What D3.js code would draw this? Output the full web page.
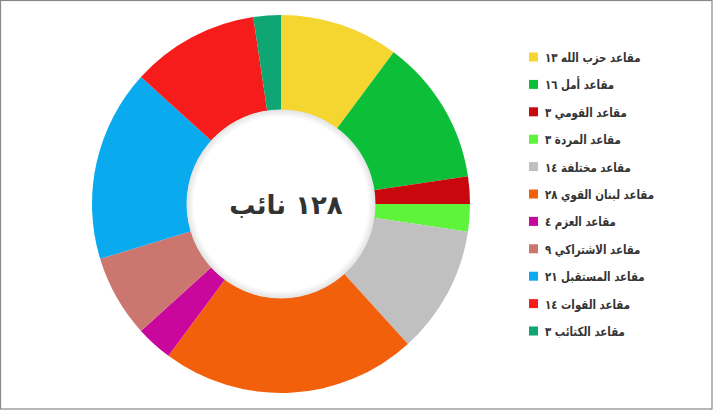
<!DOCTYPE html>
<html>
<head>
<meta charset="utf-8">
<script src="https://cdn.jsdelivr.net/npm/d3@7"></script>
<style>
  html, body { margin: 0; padding: 0; background: #fff; }
  svg { display: block; }
</style>
</head>
<body>
<svg id="chart" width="713" height="410"></svg>
<script>
// ---- data ----
const parties = ["مقاعد حزب الله", "مقاعد أمل", "مقاعد القومي", "مقاعد المردة", "مقاعد مختلفة",
                 "مقاعد لبنان القوي", "مقاعد العزم", "مقاعد الاشتراكي", "مقاعد المستقبل",
                 "مقاعد القوات", "مقاعد الكتائب"];
const seats = [13, 16, 3, 3, 14, 28, 4, 9, 21, 14, 3];
const seatLabels = ["١٣", "١٦", "٣", "٣", "١٤", "٢٨", "٤", "٩", "٢١", "١٤", "٣"];
const colors = ["#f5d52f", "#0dbf38", "#c8080d", "#5ef43c", "#c0c0c0", "#f2600c",
                "#c9079c", "#cc7670", "#0aabee", "#f61c1c", "#0fa673"];
const centerLabel = "١٢٨ نائب";

// ---- drawing ----
const svg = d3.select("#chart");
svg.append("rect").attr("x", 0.5).attr("y", 0.5).attr("width", 711.5).attr("height", 408.5)
  .attr("fill", "#fff").attr("stroke", "#888").attr("stroke-width", 1.2);

const defs = svg.append("defs");
const grad = defs.append("radialGradient").attr("id", "hole");
grad.append("stop").attr("offset", "0.92").attr("stop-color", "#ffffff");
grad.append("stop").attr("offset", "1").attr("stop-color", "#e2e2e2");

const cx = 281, cy = 204, rOuter = 189, rInner = 94;
const g = svg.append("g").attr("transform", `translate(${cx},${cy})`);

const pie = d3.pie().sort(null).value(d => d)(seats);
const arc = d3.arc().innerRadius(rInner).outerRadius(rOuter);
g.selectAll("path.slice").data(pie).enter().append("path")
  .attr("class", "slice")
  .attr("d", arc)
  .attr("fill", (d, i) => colors[i]);

g.append("circle").attr("r", rInner + 0.5).attr("fill", "url(#hole)");

g.append("text")
  .attr("x", 5).attr("y", 10)
  .attr("text-anchor", "middle")
  .attr("font-family", "DejaVu Sans, sans-serif")
  .attr("font-weight", "bold")
  .attr("font-size", 26)
  .attr("fill", "#333")
  .text(centerLabel);

// legend
const ly = d3.scalePoint().domain(d3.range(parties.length)).range([57, 331]);
const lg = svg.append("g");
const items = lg.selectAll("g").data(parties).enter().append("g")
  .attr("transform", (d, i) => `translate(529,${ly(i)})`);
items.append("rect").attr("x", 0).attr("y", -4.5).attr("width", 9).attr("height", 9)
  .attr("fill", (d, i) => colors[i]);
items.append("text")
  .attr("transform", "translate(16,5) scale(0.82,1)")
  .attr("font-family", "DejaVu Sans, sans-serif")
  .attr("font-weight", "bold")
  .attr("font-size", 12.5)
  .attr("fill", "#333")
  .text((d, i) => d + " " + seatLabels[i]);
</script>
</body>
</html>
